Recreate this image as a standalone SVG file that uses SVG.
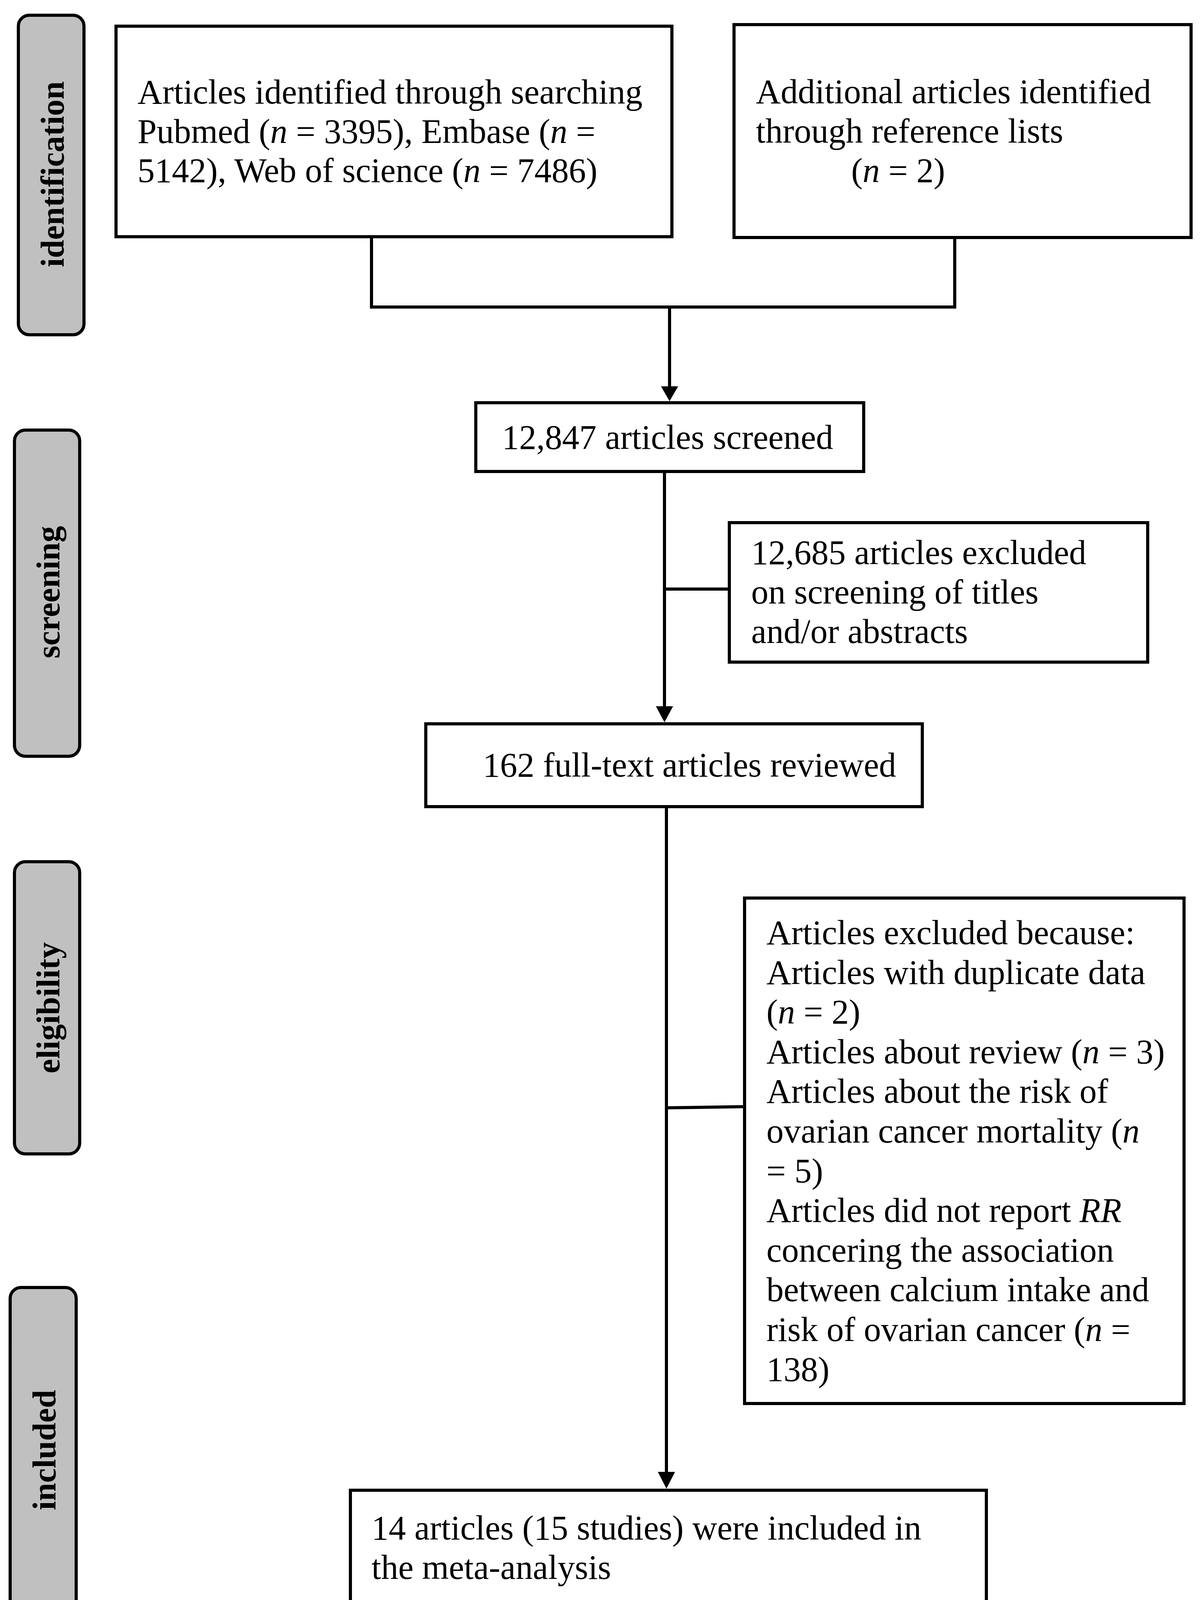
<svg xmlns="http://www.w3.org/2000/svg" width="3077" height="4151" viewBox="0 0 3077 4151">
<style>
.box{fill:#ffffff;stroke:#000000;stroke-width:8}
.pill{fill:#c0c0c0;stroke:#000000;stroke-width:8}
.txt{font-family:"Liberation Serif","Times New Roman",serif;font-size:88px;fill:#000000}
.lbl{font-family:"Liberation Serif","Times New Roman",serif;font-size:84px;font-weight:bold;fill:#000000;text-anchor:middle}
.ln{fill:none;stroke:#000000;stroke-width:8}
.ah{fill:#000000}
.i{font-style:italic}
</style>
<rect width="3077" height="4151" fill="#ffffff"/>
<g id="phase-identification">
<rect class="pill" x="47" y="39" width="168" height="818" rx="28" ry="28"/>
<text class="lbl" transform="translate(163,446) rotate(-90)">identification</text>
</g>
<g id="phase-screening">
<rect class="pill" x="37" y="1101" width="167" height="835" rx="28" ry="28"/>
<text class="lbl" transform="translate(152,1516) rotate(-90)">screening</text>
</g>
<g id="phase-eligibility">
<rect class="pill" x="37" y="2206" width="167" height="748" rx="28" ry="28"/>
<text class="lbl" transform="translate(152,2580) rotate(-90)">eligibility</text>
</g>
<g id="phase-included">
<rect class="pill" x="26" y="3296" width="169" height="837" rx="28" ry="28"/>
<text class="lbl" transform="translate(142,3712) rotate(-90)">included</text>
</g>
<g id="connectors">
<polyline class="ln" points="951,606 951,786 2444,786 2444,608"/>
<line class="ln" x1="1714" y1="786" x2="1714" y2="995"/>
<polygon class="ah" points="1692,989 1736,989 1714,1027"/>
<line class="ln" x1="1701" y1="1207" x2="1701" y2="1812"/>
<polygon class="ah" points="1679,1808 1723,1808 1701,1849"/>
<line class="ln" x1="1701" y1="1508" x2="1867" y2="1508"/>
<line class="ln" x1="1706" y1="2065" x2="1706" y2="3772"/>
<polygon class="ah" points="1684,3768 1728,3768 1706,3811"/>
<line class="ln" x1="1706" y1="2836" x2="1906" y2="2833"/>
</g>
<g id="node-search">
<rect class="box" x="297" y="67" width="1423" height="539"/>
<text class="txt"><tspan x="352" y="265">Articles identified through searching</tspan><tspan x="352" y="366">Pubmed (<tspan class="i">n</tspan> = 3395), Embase (<tspan class="i">n</tspan> =</tspan><tspan x="352" y="466">5142), Web of science (<tspan class="i">n</tspan> = 7486)</tspan></text>
</g>
<g id="node-additional">
<rect class="box" x="1879" y="63" width="1170" height="545"/>
<text class="txt"><tspan x="1935" y="264">Additional articles identified</tspan><tspan x="1935" y="365">through reference lists</tspan><tspan x="2179" y="466">(<tspan class="i">n</tspan> = 2)</tspan></text>
</g>
<g id="node-screened">
<rect class="box" x="1218" y="1031" width="993" height="176"/>
<text class="txt" x="1285" y="1149">12,847 articles screened</text>
</g>
<g id="node-excluded-screening">
<rect class="box" x="1867" y="1338" width="1071" height="357"/>
<text class="txt"><tspan x="1923" y="1444">12,685 articles excluded</tspan><tspan x="1923" y="1545">on screening of titles</tspan><tspan x="1923" y="1646">and/or abstracts</tspan></text>
</g>
<g id="node-fulltext">
<rect class="box" x="1090" y="1853" width="1271" height="212"/>
<text class="txt" x="1236" y="1988">162 full-text articles reviewed</text>
</g>
<g id="node-excluded-eligibility">
<rect class="box" x="1906" y="2299" width="1125" height="1294"/>
<text class="txt"><tspan x="1962" y="2417">Articles excluded because:</tspan><tspan x="1962" y="2519">Articles with duplicate data</tspan><tspan x="1962" y="2620">(<tspan class="i">n</tspan> = 2)</tspan><tspan x="1962" y="2722">Articles about review (<tspan class="i">n</tspan> = 3)</tspan><tspan x="1962" y="2823">Articles about the risk of</tspan><tspan x="1962" y="2925">ovarian cancer mortality (<tspan class="i">n</tspan></tspan><tspan x="1962" y="3027">= 5)</tspan><tspan x="1962" y="3128">Articles did not report <tspan class="i">RR</tspan></tspan><tspan x="1962" y="3230">concering the association</tspan><tspan x="1962" y="3331">between calcium intake and</tspan><tspan x="1962" y="3433">risk of ovarian cancer (<tspan class="i">n</tspan> =</tspan><tspan x="1962" y="3535">138)</tspan></text>
</g>
<g id="node-included">
<rect class="box" x="897" y="3815" width="1628" height="301"/>
<text class="txt"><tspan x="951" y="3941">14 articles (15 studies) were included in</tspan><tspan x="951" y="4042">the meta-analysis</tspan></text>
</g>
</svg>
